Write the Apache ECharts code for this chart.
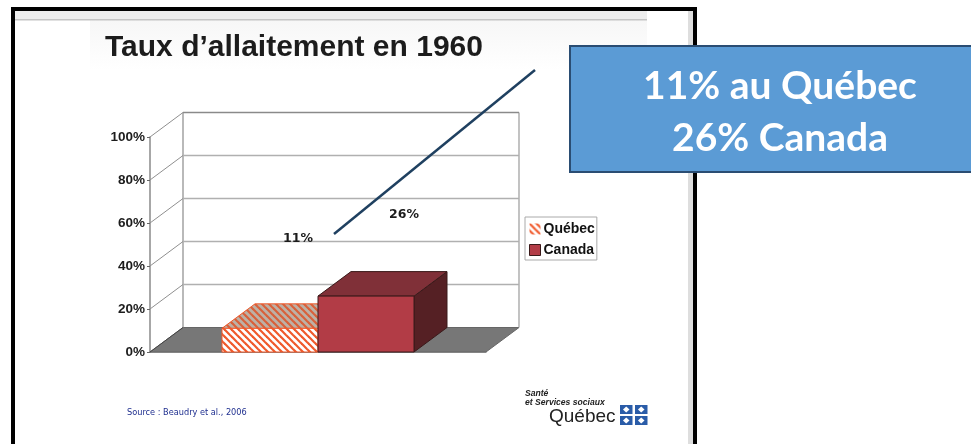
<!DOCTYPE html>
<html><head><meta charset="utf-8">
<style>html,body{margin:0;padding:0;background:#fff}#c{width:971px;height:444px}</style>
<script src="https://cdn.jsdelivr.net/npm/echarts@6/dist/echarts.min.js"></script>
</head><body><div id="c"></div>
<script>
const titleText = "Taux d’allaitement en 1960";
const categories = ["1960"];
const seriesNames = ["Québec", "Canada"];
const quebecValues = [11];
const canadaValues = [26];
const yTicks = [0, 20, 40, 60, 80, 100];
const calloutLines = ["11% au Québec", "26% Canada"];
const sourceText = "Source : Beaudry et al., 2006";

const DX = 33, DY = -24.5;
function stripes(bg, fg) {
  const s = 7, c = document.createElement('canvas');
  c.width = c.height = s;
  const g = c.getContext('2d');
  g.fillStyle = bg; g.fillRect(0, 0, s, s);
  g.strokeStyle = fg; g.lineWidth = 2.2;
  [-s, 0, s].forEach(o => { g.beginPath(); g.moveTo(o - 1, -1); g.lineTo(o + s + 1, s + 1); g.stroke(); });
  return { image: c, repeat: 'repeat' };
}
const frontFill = stripes('#ffffff', '#f0592b');
const topFill = stripes('#bdb1a6', '#d9603a');

function box(index, faces, strokeColor) {
  return function (params, api) {
    const band = api.size([1, 0])[0], w = band * 2 / 7;
    const top = api.coord([api.value(0), api.value(1)]);
    const base = api.coord([api.value(0), 0]);
    const x0 = top[0] + (index - 1) * w, x1 = x0 + w, yT = top[1], yB = base[1];
    const poly = (pts, fill) => ({
      type: 'polygon', shape: { points: pts },
      style: { fill, stroke: strokeColor, lineWidth: 1 }
    });
    return { type: 'group', children: [
      poly([[x1, yB], [x1 + DX, yB + DY], [x1 + DX, yT + DY], [x1, yT]], faces.side),
      poly([[x0, yT], [x0 + DX, yT + DY], [x1 + DX, yT + DY], [x1, yT]], faces.top),
      poly([[x0, yB], [x1, yB], [x1, yT], [x0, yT]], faces.front)
    ]};
  };
}
function wall(params, api) {
  const cs = params.coordSys, v = api.value(0);
  const y = api.coord([0, v])[1];
  const L = cs.x, R = cs.x + cs.width;
  const line = (a, b, c, d, col, lw) => ({ type: 'line', shape: { x1: a, y1: b, x2: c, y2: d }, style: { stroke: col, lineWidth: lw } });
  const ch = [];
  if (v === 0) {
    ch.push({ type: 'polygon', shape: { points: [[L, y], [R, y], [R + DX, y + DY], [L + DX, y + DY]] }, style: { fill: '#777777', stroke: '#666666', lineWidth: 1 } });
    ch.push(line(L + DX, y + DY, L + DX, cs.y + DY, '#8a8a8a', 1.2));
    ch.push(line(R + DX, y + DY, R + DX, cs.y + DY, '#9a9a9a', 1.2));
    ch.push(line(L, y, L + DX, y + DY, '#444444', 1));
  } else {
    ch.push(line(L, y, L + DX, y + DY, '#8f8f8f', 1));
    ch.push(line(L + DX, y + DY, R + DX, y + DY, v === 100 ? '#8a8a8a' : '#b0b0b0', v === 100 ? 1.5 : 1.4));
  }
  return { type: 'group', children: ch };
}

const flag = [];
[[620, 405], [635, 405], [620, 416], [635, 416]].forEach(p => {
  flag.push({ type: 'rect', z: 5, shape: { x: p[0], y: p[1], width: 12.5, height: 9 }, style: { fill: '#2a5ca8' } });
  flag.push({ type: 'polygon', z: 6, shape: { points: [[p[0] + 6.2, p[1] + 1.5], [p[0] + 9.5, p[1] + 4.5], [p[0] + 6.2, p[1] + 7.5], [p[0] + 3, p[1] + 4.5]] }, style: { fill: '#ffffff' } });
});

const chart = echarts.init(document.getElementById('c'), null, { renderer: 'canvas' });
chart.setOption({
  animation: false,
  title: { text: titleText, left: 105, top: 33, padding: 0,
    textStyle: { fontFamily: 'Liberation Sans', fontWeight: 'bold', fontSize: 30, color: '#1c1c1c' } },
  grid: { left: 150, top: 137, width: 336, height: 215 },
  xAxis: { type: 'category', data: categories, axisTick: { show: false }, axisLabel: { show: false },
    axisLine: { lineStyle: { color: '#888888', width: 1.5 } } },
  yAxis: { type: 'value', min: 0, max: 100, interval: 20, splitLine: { show: false },
    axisLine: { show: true, lineStyle: { color: '#8a8a8a', width: 1.5 } },
    axisTick: { show: true, length: 3, lineStyle: { color: '#666666' } },
    axisLabel: { formatter: '{value}%', margin: 5, color: '#1c1c1c', fontFamily: 'Liberation Sans', fontWeight: 'bold', fontSize: 13.5 } },
  legend: { orient: 'vertical', left: 525, top: 217, padding: [5, 2, 3, 4], itemGap: 7, itemWidth: 11, itemHeight: 11,
    backgroundColor: '#ffffff', borderColor: '#aaaaaa', borderWidth: 1,
    textStyle: { fontFamily: 'Liberation Sans', fontWeight: 'bold', fontSize: 14, color: '#111111', padding: [0, 0, 0, -2] },
    data: [
      { name: seriesNames[0], icon: 'rect', itemStyle: { color: stripes('#ffffff', '#f0592b') } },
      { name: seriesNames[1], icon: 'rect', itemStyle: { color: '#b23c46', borderColor: '#3a1a1a', borderWidth: 1 } }
    ] },
  series: [
    { type: 'custom', name: 'walls', z: 1, silent: true, renderItem: wall, data: yTicks.map(v => [v]), encode: { y: 0 }, clip: false },
    { type: 'custom', name: seriesNames[0], z: 3, clip: false, itemStyle: { color: '#f0592b' },
      renderItem: box(0, { front: frontFill, top: topFill, side: topFill }, '#f0592b'),
      data: quebecValues.map((v, i) => [i, v]), encode: { x: 0, y: 1 } },
    { type: 'custom', name: seriesNames[1], z: 4, clip: false, itemStyle: { color: '#b23c46' },
      renderItem: box(1, { front: '#b23c46', top: '#803038', side: '#552024' }, '#3a1a1a'),
      data: canadaValues.map((v, i) => [i, v]), encode: { x: 0, y: 1 } }
  ],
  graphic: [
    { type: 'rect', z: -1, shape: { x: 90, y: 20, width: 557, height: 50 }, style: { fill: { type: 'linear', x: 0, y: 0, x2: 0, y2: 1, colorStops: [{ offset: 0, color: '#f7f7f7' }, { offset: 1, color: '#ffffff' }] } } },
    { type: 'rect', z: -1, shape: { x: 15, y: 11, width: 632, height: 8 }, style: { fill: '#ededed' } },
    { type: 'rect', z: -1, shape: { x: 15, y: 19, width: 632, height: 1.5 }, style: { fill: '#c4c4c4' } },
    { type: 'rect', z: -1, shape: { x: 688, y: 11, width: 5, height: 433 }, style: { fill: '#dedede' } },
    { type: 'rect', z: 0, shape: { x: 13, y: 9, width: 682, height: 445 }, style: { fill: 'transparent', stroke: '#000000', lineWidth: 4 } },
    { type: 'text', z: 6, x: 298, y: 239, style: { text: quebecValues[0] + '%', align: 'center', verticalAlign: 'middle', font: 'bold 12.5px "DejaVu Sans"', fill: '#1c1c1c' } },
    { type: 'text', z: 6, x: 404, y: 215, style: { text: canadaValues[0] + '%', align: 'center', verticalAlign: 'middle', font: 'bold 12.5px "DejaVu Sans"', fill: '#1c1c1c' } },
    { type: 'line', z: 7, shape: { x1: 334, y1: 234, x2: 535, y2: 70 }, style: { stroke: '#1f4060', lineWidth: 2.5 } },
    { type: 'rect', z: 8, shape: { x: 570, y: 46, width: 410, height: 126 }, style: { fill: '#5b9bd5', stroke: '#2a4d73', lineWidth: 2 } },
    { type: 'text', z: 9, x: 780, y: 86, style: { text: calloutLines[0], align: 'center', verticalAlign: 'middle', font: 'bold 39px Lato', fill: '#ffffff' } },
    { type: 'text', z: 9, x: 780, y: 138, style: { text: calloutLines[1], align: 'center', verticalAlign: 'middle', font: 'bold 39px Lato', fill: '#ffffff' } },
    { type: 'text', z: 5, x: 127, y: 413, style: { text: sourceText, align: 'left', verticalAlign: 'middle', font: '8.2px "DejaVu Sans"', fill: '#1f2f8f' } },
    { type: 'text', z: 5, x: 525, y: 394, style: { text: 'Santé', verticalAlign: 'middle', font: 'italic bold 8.6px "Liberation Sans"', fill: '#222222' } },
    { type: 'text', z: 5, x: 525, y: 403, style: { text: 'et Services sociaux', verticalAlign: 'middle', font: 'italic bold 8.6px "Liberation Sans"', fill: '#222222' } },
    { type: 'text', z: 5, x: 549, y: 417, style: { text: 'Québec', verticalAlign: 'middle', font: '19px "Liberation Sans"', fill: '#222222' } }
  ].concat(flag)
});
</script></body></html>
